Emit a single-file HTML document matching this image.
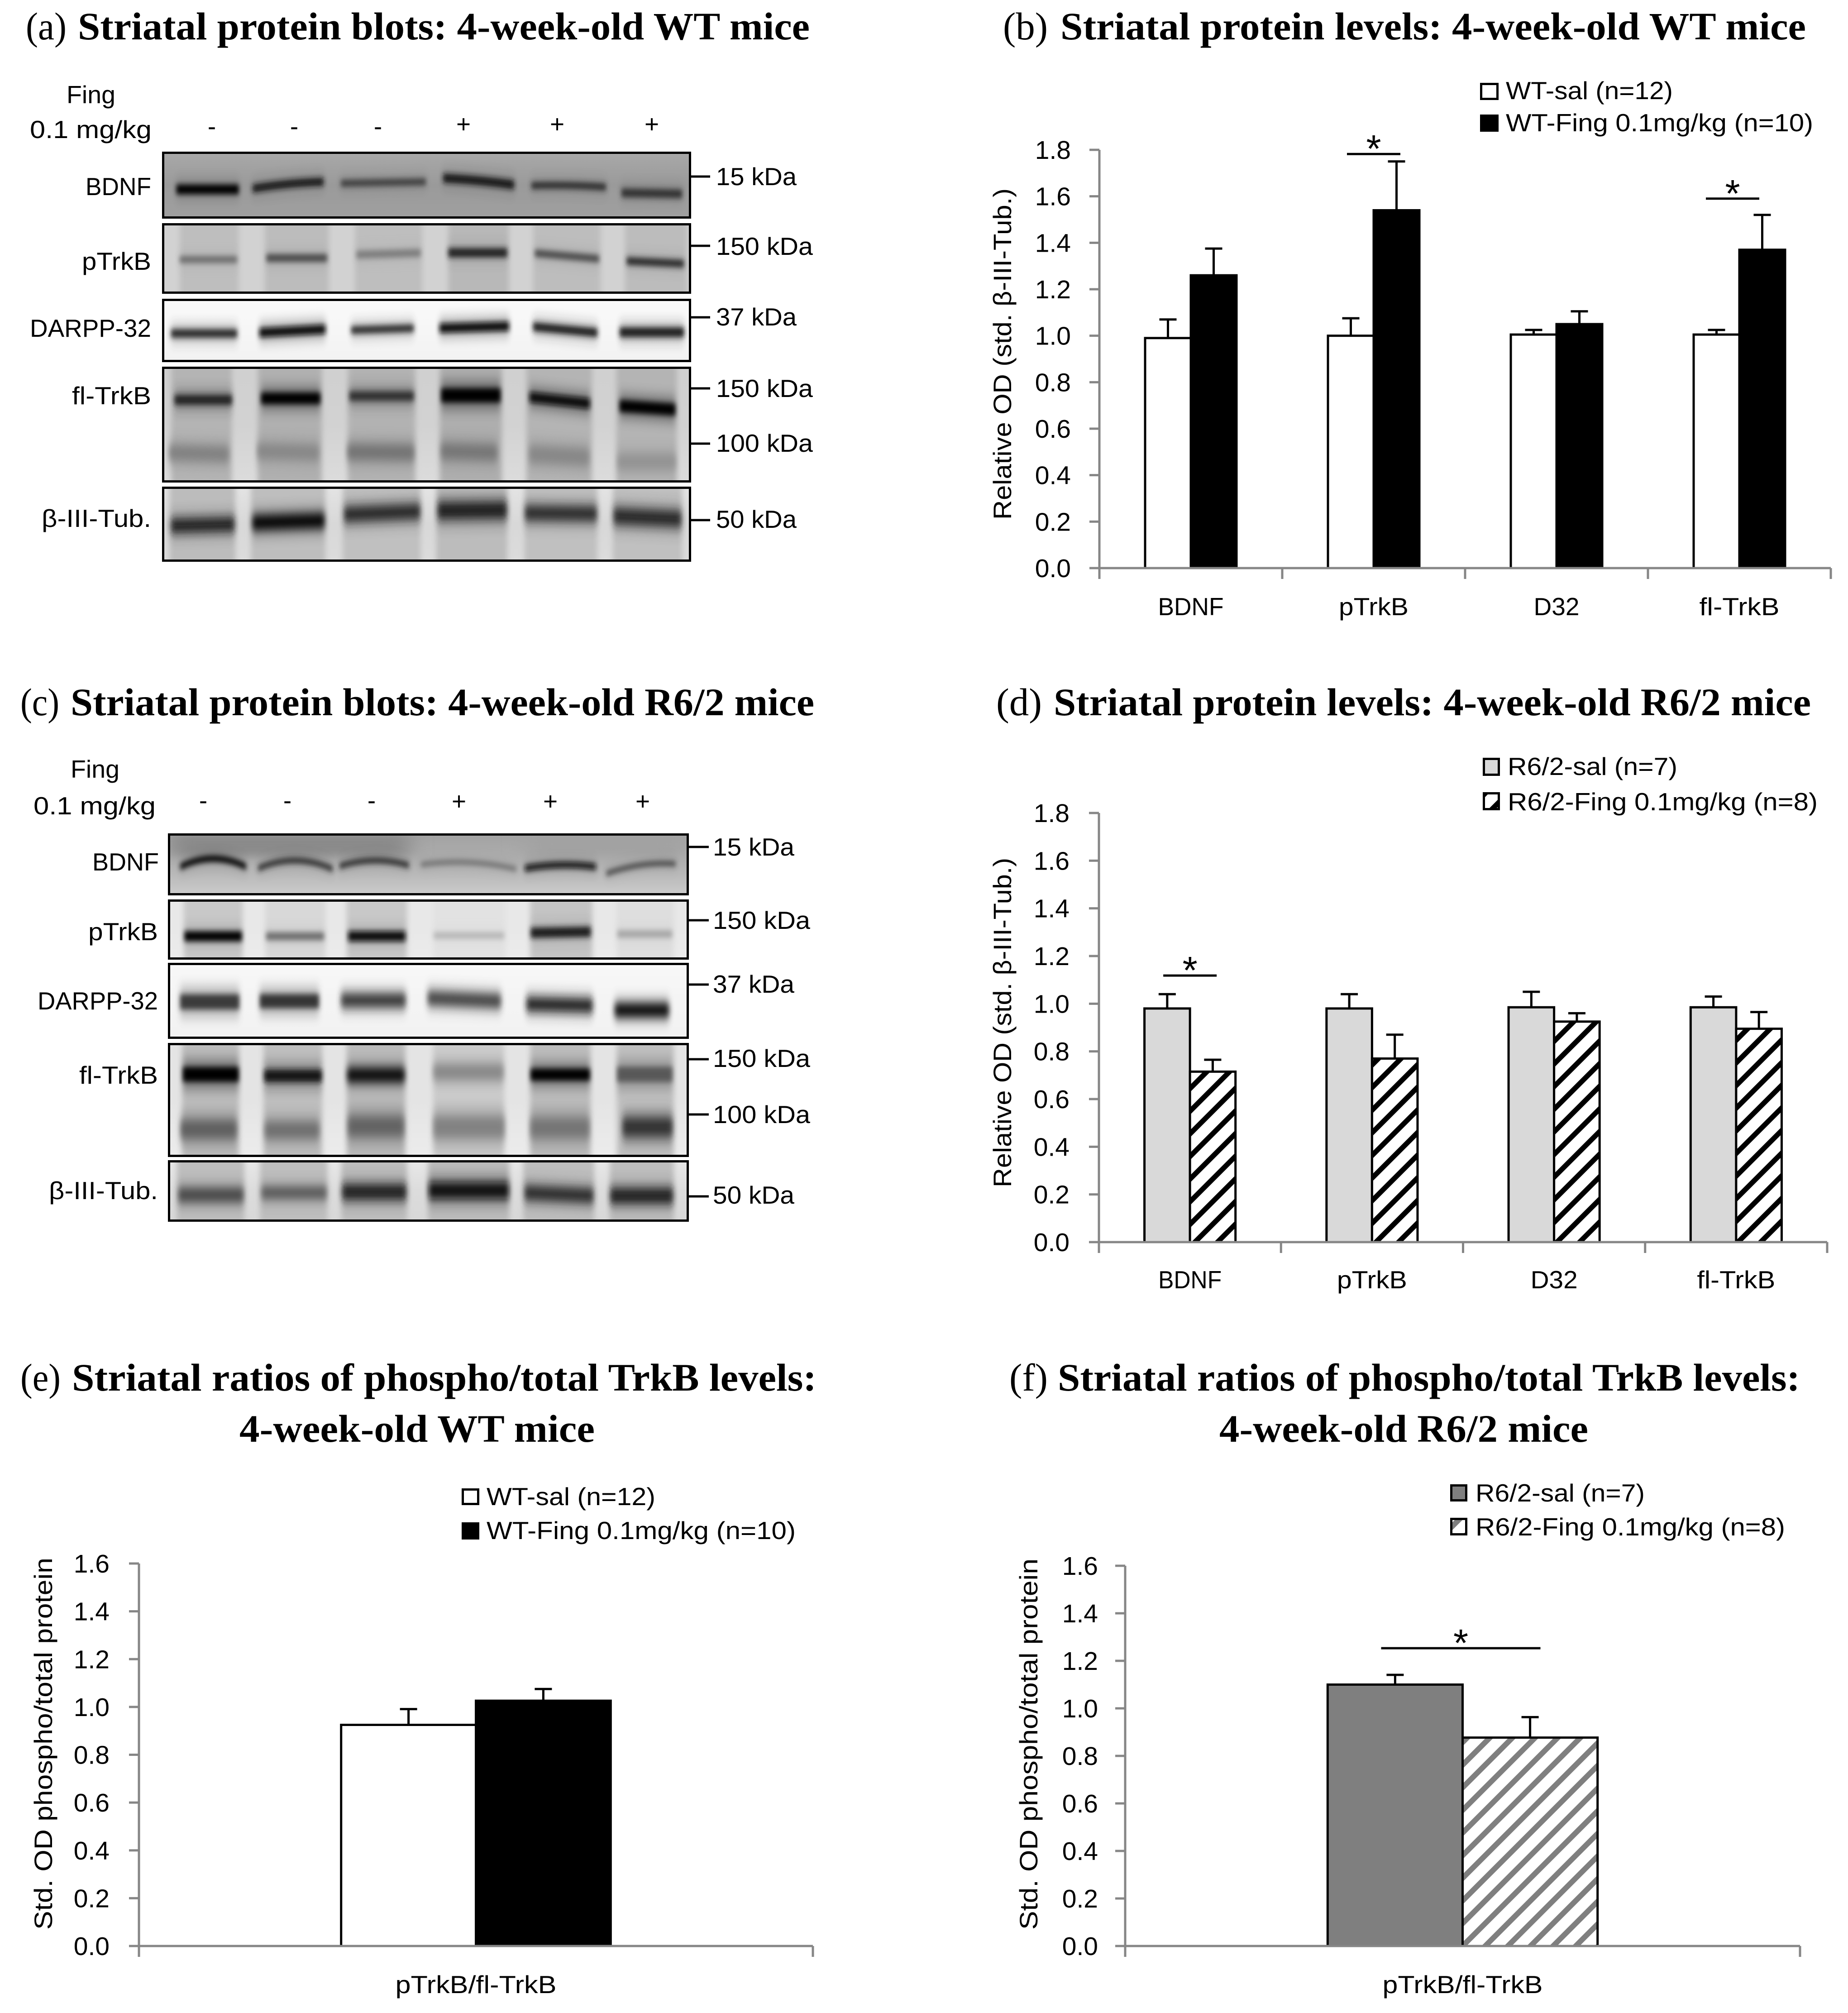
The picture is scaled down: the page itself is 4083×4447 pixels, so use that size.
<!DOCTYPE html>
<html lang="en">
<head>
<meta charset="utf-8">
<title>Striatal protein blots and levels</title>
<style>
html,body{margin:0;padding:0;background:#fff}
svg{display:block}
.t{font-family:"Liberation Serif",serif;font-size:86px;fill:#000}
.tb{font-weight:bold}
.l{font-family:"Liberation Sans",sans-serif;font-size:55px;fill:#000}
.k{stroke:#000;stroke-width:5;fill:none}
</style>
</head>
<body>
<svg id="root" xmlns="http://www.w3.org/2000/svg" width="4083" height="4447" viewBox="0 0 4083 4447">
<defs>
<filter id="bl3" x="-20%" y="-150%" width="140%" height="400%"><feGaussianBlur stdDeviation="5 6"/></filter>
<filter id="bl7" x="-20%" y="-100%" width="140%" height="300%"><feGaussianBlur stdDeviation="6 10"/></filter>
<filter id="bl9" x="-30%" y="-150%" width="160%" height="400%"><feGaussianBlur stdDeviation="6 14"/></filter>
<filter id="bl5" x="-30%" y="-40%" width="160%" height="180%"><feGaussianBlur stdDeviation="6 8"/></filter>
<filter id="bl20" x="-20%" y="-40%" width="140%" height="180%"><feGaussianBlur stdDeviation="24 10"/></filter>
<pattern id="hatch-black" patternUnits="userSpaceOnUse" width="50" height="50"><rect width="50" height="50" fill="#fff"/><polygon points="26,0 42,0 0,42 0,26" fill="#000"/><polygon points="50,26 50,42 42,50 26,50" fill="#000"/></pattern>
<pattern id="hatch-gray" patternUnits="userSpaceOnUse" width="50" height="50"><rect width="50" height="50" fill="#fff"/><polygon points="22,0 39,0 0,39 0,22" fill="#7f7f7f"/><polygon points="50,22 50,39 39,50 22,50" fill="#7f7f7f"/></pattern>
</defs>

<!-- Panel titles -->
<g>
<text class="t" x="57" y="87" textLength="90" lengthAdjust="spacingAndGlyphs">(a)</text>
<text class="t tb" x="172" y="87" textLength="1617" lengthAdjust="spacingAndGlyphs">Striatal protein blots: 4-week-old WT mice</text>
<text class="t" x="2216" y="87" textLength="99" lengthAdjust="spacingAndGlyphs">(b)</text>
<text class="t tb" x="2343" y="87" textLength="1647" lengthAdjust="spacingAndGlyphs">Striatal protein levels: 4-week-old WT mice</text>
<text class="t" x="45" y="1580" textLength="86" lengthAdjust="spacingAndGlyphs">(c)</text>
<text class="t tb" x="156" y="1580" textLength="1643" lengthAdjust="spacingAndGlyphs">Striatal protein blots: 4-week-old R6/2 mice</text>
<text class="t" x="2201" y="1580" textLength="101" lengthAdjust="spacingAndGlyphs">(d)</text>
<text class="t tb" x="2328" y="1580" textLength="1673" lengthAdjust="spacingAndGlyphs">Striatal protein levels: 4-week-old R6/2 mice</text>
<text class="t" x="45" y="3072" textLength="89" lengthAdjust="spacingAndGlyphs">(e)</text>
<text class="t tb" x="159" y="3072" textLength="1645" lengthAdjust="spacingAndGlyphs">Striatal ratios of phospho/total TrkB levels:</text>
<text class="t tb" x="529" y="3185" textLength="785" lengthAdjust="spacingAndGlyphs">4-week-old WT mice</text>
<text class="t" x="2230" y="3072" textLength="85" lengthAdjust="spacingAndGlyphs">(f)</text>
<text class="t tb" x="2337" y="3072" textLength="1640" lengthAdjust="spacingAndGlyphs">Striatal ratios of phospho/total TrkB levels:</text>
<text class="t tb" x="2694" y="3185" textLength="815" lengthAdjust="spacingAndGlyphs">4-week-old R6/2 mice</text>
</g>

<g id="blots"></g>

<!-- Panel a labels -->
<g>
<text class="l" x="147" y="228" textLength="108" lengthAdjust="spacingAndGlyphs">Fing</text>
<text class="l" x="66" y="305" textLength="269" lengthAdjust="spacingAndGlyphs">0.1 mg/kg</text>
<text class="l" x="468" y="298" text-anchor="middle">-</text>
<text class="l" x="650" y="298" text-anchor="middle">-</text>
<text class="l" x="835" y="298" text-anchor="middle">-</text>
<text class="l" x="1024" y="293" text-anchor="middle">+</text>
<text class="l" x="1231" y="293" text-anchor="middle">+</text>
<text class="l" x="1440" y="293" text-anchor="middle">+</text>
<text class="l" x="189" y="431" textLength="145" lengthAdjust="spacingAndGlyphs">BDNF</text>
<text class="l" x="181" y="596" textLength="153" lengthAdjust="spacingAndGlyphs">pTrkB</text>
<text class="l" x="66" y="744" textLength="268" lengthAdjust="spacingAndGlyphs">DARPP-32</text>
<text class="l" x="159" y="893" textLength="175" lengthAdjust="spacingAndGlyphs">fl-TrkB</text>
<text class="l" x="92" y="1164" textLength="242" lengthAdjust="spacingAndGlyphs">β-III-Tub.</text>
<path class="k" d="M1527 390H1569M1527 543H1569M1527 701H1569M1527 858H1569M1527 980H1569M1527 1149H1569"/>
<text class="l" x="1582" y="409" textLength="178" lengthAdjust="spacingAndGlyphs">15 kDa</text>
<text class="l" x="1582" y="563" textLength="214" lengthAdjust="spacingAndGlyphs">150 kDa</text>
<text class="l" x="1582" y="719" textLength="178" lengthAdjust="spacingAndGlyphs">37 kDa</text>
<text class="l" x="1582" y="877" textLength="214" lengthAdjust="spacingAndGlyphs">150 kDa</text>
<text class="l" x="1582" y="998" textLength="214" lengthAdjust="spacingAndGlyphs">100 kDa</text>
<text class="l" x="1582" y="1166" textLength="178" lengthAdjust="spacingAndGlyphs">50 kDa</text>
</g>

<!-- Panel c labels -->
<g>
<text class="l" x="156" y="1718" textLength="108" lengthAdjust="spacingAndGlyphs">Fing</text>
<text class="l" x="74" y="1799" textLength="270" lengthAdjust="spacingAndGlyphs">0.1 mg/kg</text>
<text class="l" x="449" y="1787" text-anchor="middle">-</text>
<text class="l" x="635" y="1787" text-anchor="middle">-</text>
<text class="l" x="821" y="1787" text-anchor="middle">-</text>
<text class="l" x="1014" y="1789" text-anchor="middle">+</text>
<text class="l" x="1216" y="1789" text-anchor="middle">+</text>
<text class="l" x="1420" y="1789" text-anchor="middle">+</text>
<text class="l" x="204" y="1923" textLength="147" lengthAdjust="spacingAndGlyphs">BDNF</text>
<text class="l" x="195" y="2077" textLength="154" lengthAdjust="spacingAndGlyphs">pTrkB</text>
<text class="l" x="83" y="2230" textLength="266" lengthAdjust="spacingAndGlyphs">DARPP-32</text>
<text class="l" x="175" y="2394" textLength="174" lengthAdjust="spacingAndGlyphs">fl-TrkB</text>
<text class="l" x="108" y="2649" textLength="241" lengthAdjust="spacingAndGlyphs">β-III-Tub.</text>
<path class="k" d="M1520 1871H1566M1520 2033H1566M1520 2175H1566M1520 2340H1566M1520 2462H1566M1520 2643H1566"/>
<text class="l" x="1575" y="1890" textLength="180" lengthAdjust="spacingAndGlyphs">15 kDa</text>
<text class="l" x="1575" y="2052" textLength="215" lengthAdjust="spacingAndGlyphs">150 kDa</text>
<text class="l" x="1575" y="2193" textLength="180" lengthAdjust="spacingAndGlyphs">37 kDa</text>
<text class="l" x="1575" y="2357" textLength="215" lengthAdjust="spacingAndGlyphs">150 kDa</text>
<text class="l" x="1575" y="2481" textLength="215" lengthAdjust="spacingAndGlyphs">100 kDa</text>
<text class="l" x="1575" y="2659" textLength="180" lengthAdjust="spacingAndGlyphs">50 kDa</text>
</g>

<g id="charts"></g>
</svg>

<script>
// ---------- Chart data ----------
const proteinCategories = ['BDNF', 'pTrkB', 'D32', 'fl-TrkB'];
const ratioCategories = ['pTrkB/fl-TrkB'];
const tickLabels18 = ['0.0', '0.2', '0.4', '0.6', '0.8', '1.0', '1.2', '1.4', '1.6', '1.8'];
const tickLabels16 = ['0.0', '0.2', '0.4', '0.6', '0.8', '1.0', '1.2', '1.4', '1.6'];

const bSalValues = [0.99, 1.0, 1.005, 1.005];
const bSalErrors = [0.08, 0.075, 0.02, 0.02];
const bFingValues = [1.26, 1.54, 1.05, 1.37];
const bFingErrors = [0.115, 0.21, 0.055, 0.15];
const bSigCategories = [1, 3];
const bSigLevels = [1.782, 1.59];

const dSalValues = [0.98, 0.98, 0.985, 0.985];
const dSalErrors = [0.06, 0.06, 0.065, 0.045];
const dFingValues = [0.715, 0.77, 0.925, 0.895];
const dFingErrors = [0.05, 0.10, 0.035, 0.07];
const dSigCategories = [0];
const dSigLevels = [1.118];

const eSalValues = [0.925];
const eSalErrors = [0.066];
const eFingValues = [1.026];
const eFingErrors = [0.049];
const eSigCategories = [];
const eSigLevels = [];

const fSalValues = [1.10];
const fSalErrors = [0.041];
const fFingValues = [0.877];
const fFingErrors = [0.086];
const fSigCategories = [0];
const fSigLevels = [1.253];

// ---------- Helpers ----------
const NS = 'http://www.w3.org/2000/svg';
function mk(tag, attrs, parent, txt) {
  const el = document.createElementNS(NS, tag);
  for (const k in attrs) el.setAttribute(k, attrs[k]);
  if (txt !== undefined) el.textContent = txt;
  parent.appendChild(el);
  return el;
}
const SANS = '"Liberation Sans", sans-serif';

// ---------- Chart drawing ----------
function drawChart(c) {
  const root = document.getElementById('charts');
  const g = mk('g', {}, root);
  
  
  const yScale = v => c.y0 - (v / c.vmax) * (c.y0 - c.y1);
  const catW = (c.x1 - c.x0) / c.categories.length;
  const xBand = i => c.x0 + i * catW;
  const xCenter = i => xBand(i) + catW / 2;
  const barW = catW * c.barFrac;

  // bars + error bars
  c.series.forEach((s, si) => {
    s.values.forEach((v, i) => {
      const left = xCenter(i) + (si - 1) * barW;
      const top = yScale(v + s.errors[i]);
      const mid = left + barW / 2;
      const stem = mk('path', { d: 'M' + mid + ' ' + yScale(v) + 'V' + top + 'M' + (mid - 19) + ' ' + top + 'H' + (mid + 19), stroke: '#000', 'stroke-width': 5, fill: 'none' }, g);
      
      
    });
  });
  c.series.forEach((s, si) => {
    s.values.forEach((v, i) => {
      const left = xCenter(i) + (si - 1) * barW;
      const bar = mk('rect', { x: left, y: yScale(v), width: barW, height: yScale(0) - yScale(v), fill: s.fill, stroke: '#000', 'stroke-width': 5 }, g);
      
      
    });
  });

  // axes
  const axis = mk('path', { d: 'M' + c.x0 + ' ' + c.y1 + 'V' + c.y0 + 'H' + c.x1, stroke: '#868686', 'stroke-width': 5, fill: 'none' }, g);
  
  
  c.ticks.forEach(t => {
    const y = yScale(parseFloat(t));
    const tick = mk('path', { d: 'M' + (c.x0 - 22) + ' ' + y + 'H' + c.x0, stroke: '#868686', 'stroke-width': 5 }, g);
    
    
    const lab = mk('text', { x: c.x0 - c.tickGap, y: y + 20, 'text-anchor': 'end', 'font-family': SANS, 'font-size': 57 }, g, t);
    
    
  });
  for (let i = 0; i <= c.categories.length; i++) {
    const tick = mk('path', { d: 'M' + xBand(i) + ' ' + c.y0 + 'v24', stroke: '#868686', 'stroke-width': 5 }, g);
    
    
  }
  c.categories.forEach((cat, i) => {
    const w = c.catLen[i];
    const lab = mk('text', { x: xCenter(i) - w / 2 + c.catShift, y: c.catBase, 'font-family': SANS, 'font-size': 55, textLength: w, lengthAdjust: 'spacingAndGlyphs' }, g, cat);
    
    
  });

  // y title
  const yt = mk('text', { transform: 'translate(' + c.yTitle.x + ' ' + c.yTitle.y + ') rotate(-90)', x: 0, y: 0, 'font-family': SANS, 'font-size': 56, textLength: c.yTitle.len, lengthAdjust: 'spacingAndGlyphs' }, g, c.yTitle.text);
  
  

  // significance
  c.sigCats.forEach((ci, k) => {
    const y = yScale(c.sigLevels[k]);
    const cx = xCenter(ci) + c.sigShift[k];
    const line = mk('path', { d: 'M' + (cx - c.sigHalf) + ' ' + y + 'H' + (cx + c.sigHalf), stroke: '#000', 'stroke-width': 5 }, g);
    
    
    const star = mk('text', { x: cx, y: y + 18, 'text-anchor': 'middle', 'font-family': SANS, 'font-size': 85 }, g, '*');
    
    
  });

  // legend
  c.series.forEach((s, si) => {
    const L = c.legend[si];
    const sw = mk('rect', { x: L.bx + 2.5, y: L.by + 2.5, width: L.bw - 5, height: L.bh - 5, fill: s.fill, stroke: '#000', 'stroke-width': 5 }, g);
    
    
    const tx = mk('text', { x: L.tx, y: L.ty, 'font-family': SANS, 'font-size': 55, textLength: L.tl, lengthAdjust: 'spacingAndGlyphs' }, g, s.label);
    
    
  });
}

drawChart({
  name: 'chart-b-wt-protein-levels', categories: proteinCategories, ticks: tickLabels18, vmax: 1.8,
  x0: 2429, x1: 4045, y0: 1255, y1: 331, barFrac: 0.25, tickGap: 63,
  catBase: 1359, catLen: [145, 154, 101, 177], catShift: 0,
  yTitle: { text: 'Relative OD (std. β-III-Tub.)', x: 2234, y: 1148, len: 732 },
  sigCats: bSigCategories, sigLevels: bSigLevels, sigHalf: 59, sigShift: [0, -15],
  series: [
    { key: 'wt-sal', label: 'WT-sal (n=12)', values: bSalValues, errors: bSalErrors, fill: '#fff' },
    { key: 'wt-fing', label: 'WT-Fing 0.1mg/kg (n=10)', values: bFingValues, errors: bFingErrors, fill: '#000' }
  ],
  legend: [
    { bx: 3270, by: 183, bw: 41, bh: 38, tx: 3327, ty: 219, tl: 369 },
    { bx: 3270, by: 253, bw: 41, bh: 38, tx: 3327, ty: 290, tl: 679 }
  ]
});
drawChart({
  name: 'chart-d-r62-protein-levels', categories: proteinCategories, ticks: tickLabels18, vmax: 1.8,
  x0: 2428, x1: 4037, y0: 2744, y1: 1796, barFrac: 0.25, tickGap: 65,
  catBase: 2846, catLen: [140, 155, 104, 173], catShift: 0,
  yTitle: { text: 'Relative OD (std. β-III-Tub.)', x: 2234, y: 2623, len: 728 },
  sigCats: dSigCategories, sigLevels: dSigLevels, sigHalf: 59, sigShift: [0],
  series: [
    { key: 'r62-sal', label: 'R6/2-sal (n=7)', values: dSalValues, errors: dSalErrors, fill: '#d9d9d9' },
    { key: 'r62-fing', label: 'R6/2-Fing 0.1mg/kg (n=8)', values: dFingValues, errors: dFingErrors, fill: 'url(#hatch-black)' }
  ],
  legend: [
    { bx: 3276, by: 1674, bw: 38, bh: 40, tx: 3331, ty: 1712, tl: 375 },
    { bx: 3276, by: 1750, bw: 38, bh: 40, tx: 3331, ty: 1790, tl: 685 }
  ]
});
drawChart({
  name: 'chart-e-wt-ratio', categories: ratioCategories, ticks: tickLabels16, vmax: 1.6,
  x0: 307, x1: 1796, y0: 4299, y1: 3454, barFrac: 0.2, tickGap: 65,
  catBase: 4403, catLen: [356], catShift: 0,
  yTitle: { text: 'Std. OD phospho/total protein', x: 115, y: 4263, len: 822 },
  sigCats: eSigCategories, sigLevels: eSigLevels, sigHalf: 59, sigShift: [],
  series: [
    { key: 'wt-sal', label: 'WT-sal (n=12)', values: eSalValues, errors: eSalErrors, fill: '#fff' },
    { key: 'wt-fing', label: 'WT-Fing 0.1mg/kg (n=10)', values: eFingValues, errors: eFingErrors, fill: '#000' }
  ],
  legend: [
    { bx: 1020, by: 3288, bw: 39, bh: 37, tx: 1075, ty: 3325, tl: 373 },
    { bx: 1020, by: 3363, bw: 39, bh: 38, tx: 1075, ty: 3400, tl: 683 }
  ]
});
drawChart({
  name: 'chart-f-r62-ratio', categories: ratioCategories, ticks: tickLabels16, vmax: 1.6,
  x0: 2486, x1: 3977, y0: 4299, y1: 3459, barFrac: 0.2, tickGap: 60,
  catBase: 4403, catLen: [354], catShift: 0,
  yTitle: { text: 'Std. OD phospho/total protein', x: 2292, y: 4263, len: 820 },
  sigCats: fSigCategories, sigLevels: fSigLevels, sigHalf: 176, sigShift: [-4],
  series: [
    { key: 'r62-sal', label: 'R6/2-sal (n=7)', values: fSalValues, errors: fSalErrors, fill: '#7f7f7f' },
    { key: 'r62-fing', label: 'R6/2-Fing 0.1mg/kg (n=8)', values: fFingValues, errors: fFingErrors, fill: 'url(#hatch-gray)' }
  ],
  legend: [
    { bx: 3204, by: 3279, bw: 38, bh: 38, tx: 3260, ty: 3317, tl: 374 },
    { bx: 3204, by: 3353, bw: 38, bh: 39, tx: 3260, ty: 3392, tl: 684 }
  ]
});

// ---------- Western blot imagery ----------
// lanes: [x1, x2, fill, yTop?, yBottom?]; bands: [x1, x2, yLeft, yRight, thickness, colour, bow] in local crop units
const blotPanels = [
  { name: 'blot-a-bdnf', ox: 340, oy: 320, box: [358, 335, 1527, 483], bg: ['#a9a9a9', '#9a9a9a', '#a0a0a0'], halo: 0.15,
    lanes: [],
    bands: [[65,245,295,295,38,'#000'],[285,490,290,245,30,'#141414',-8],[540,785,255,245,26,'#3c3c3c'],[835,1040,220,265,34,'#141414',-5],[1090,1305,270,280,26,'#2a2a2a',-6],[1350,1525,318,325,34,'#333']] },
  { name: 'blot-a-ptrkb', ox: 340, oy: 320, box: [358, 493, 1527, 649], bg: ['#d2d2d2', '#d2d2d2', '#d2d2d2'], halo: 0.12,
    lanes: [[75,245,'#bebebe'],[320,505,'#bcbcbc'],[580,775,'#bebebe'],[850,1025,'#b8b8b8'],[1095,1290,'#bdbdbd'],[1360,1540,'#bcbcbc']],
    bands: [[75,240,760,760,26,'#6a6a6a'],[325,500,750,750,30,'#4a4a4a'],[585,770,728,716,30,'#7c7c7c'],[850,1020,715,715,36,'#222'],[1100,1285,718,755,28,'#4a4a4a'],[1365,1530,770,788,30,'#2c2c2c']] },
  { name: 'blot-a-darpp32', ox: 340, oy: 320, box: [358, 660, 1527, 800], bg: ['#fafafa', '#f6f6f6', '#f2f2f2'], halo: 0.32,
    lanes: [],
    bands: [[50,240,1250,1250,32,'#2c2c2c'],[305,495,1245,1222,36,'#0c0c0c'],[570,750,1228,1215,28,'#2c2c2c'],[825,1025,1215,1202,36,'#0c0c0c'],[1095,1280,1205,1245,32,'#1c1c1c'],[1345,1530,1242,1242,36,'#1c1c1c']] },
  { name: 'blot-a-fl-trkb', ox: 340, oy: 790, box: [358, 810, 1527, 1066], bg: ['#d0d0d0', '#d2d2d2', '#dcdcdc'], halo: 0.4,
    lanes: [[50,225,'#b4b4b4'],[300,485,'#b0b0b0'],[560,755,'#b2b2b2'],[825,1005,'#aeaeae'],[1075,1265,'#b4b4b4'],[1335,1510,'#b4b4b4']],
    bands: [[60,225,280,280,36,'#222'],[310,480,270,270,44,'#000'],[565,750,255,255,36,'#333'],[830,1000,250,250,54,'#000'],[1085,1258,262,305,40,'#0c0c0c'],[1345,1505,320,345,46,'#000'],
            [45,215,630,640,70,'#808080'],[300,475,620,630,70,'#868686'],[560,750,625,630,72,'#727272'],[830,990,620,630,72,'#747474'],[1085,1255,640,660,80,'#868686'],[1340,1505,690,690,70,'#929292']] },
  { name: 'blot-a-tubulin', ox: 340, oy: 790, box: [358, 1075, 1527, 1241], bg: ['#e4e4e4', '#d8d8d8', '#dcdcdc'], halo: 0.3,
    lanes: [[45,235,'#bcbcbc'],[280,495,'#bebebe'],[545,770,'#c0c0c0'],[815,1020,'#bcbcbc'],[1070,1280,'#c0c0c0'],[1325,1525,'#c0c0c0']],
    bands: [[50,232,1115,1105,66,'#1c1c1c'],[285,492,1095,1080,72,'#060606'],[550,768,1040,1020,72,'#282828'],[820,1018,1015,1010,82,'#1e1e1e'],[1072,1278,1030,1035,72,'#2a2a2a'],[1328,1522,1050,1070,78,'#262626']] },

  { name: 'blot-c-bdnf', ox: 360, oy: 1820, box: [371, 1841, 1522, 1978], bg: ['#a2a2a2', '#b0b0b0', '#cccccc'], halo: 0.12,
    lanes: [[20,710,'#8a8a8a',60,215,'bl20'],[1050,1500,'#a2a2a2',60,210,'bl20']],
    bands: [[50,240,285,285,24,'#000',-55],[275,490,295,300,22,'#2a2a2a',-55],[510,710,280,275,22,'#2a2a2a',-35],[745,1020,270,300,16,'#666',-30],[1045,1250,295,285,24,'#0a0a0a',-18],[1280,1480,330,265,18,'#3c3c3c',-25]] },
  { name: 'blot-c-ptrkb', ox: 360, oy: 1820, box: [371, 1987, 1522, 2120], bg: ['#e8e8e8', '#e8e8e8', '#ececec'], halo: 0.12,
    lanes: [[60,230,'#c8c8c8'],[295,470,'#d8d8d8'],[530,705,'#c8c8c8'],[780,990,'#e2e2e2'],[1060,1240,'#c4c4c4'],[1310,1475,'#dedede']],
    bands: [[62,228,745,745,40,'#000'],[298,465,745,745,30,'#6c6c6c'],[535,700,745,745,40,'#0a0a0a'],[782,985,740,740,24,'#b4b4b4'],[1062,1235,722,715,40,'#1a1a1a'],[1312,1470,730,730,28,'#a4a4a4']] },
  { name: 'blot-c-darpp32', ox: 360, oy: 1820, box: [371, 2127, 1522, 2295], bg: ['#f8f8f8', '#f4f4f4', '#f2f2f2'], halo: 0.35,
    lanes: [],
    bands: [[50,220,1180,1180,58,'#3a3a3a'],[280,450,1175,1175,54,'#343434'],[515,700,1170,1170,62,'#323232'],[765,975,1155,1175,62,'#3e3e3e'],[1050,1240,1195,1205,62,'#1a1a1a'],[1305,1460,1235,1235,62,'#050505']] },
  { name: 'blot-c-fl-trkb', ox: 360, oy: 2280, box: [371, 2304, 1522, 2556], bg: ['#e4e4e4', '#e4e4e4', '#ececec'], halo: 0.4,
    lanes: [[55,220,'#bcbcbc'],[290,460,'#bebebe'],[530,700,'#bababa'],[780,985,'#cccccc'],[1060,1235,'#bcbcbc'],[1310,1475,'#c0c0c0']],
    bands: [[58,218,280,280,56,'#000'],[293,458,290,290,46,'#141414'],[533,697,285,285,60,'#000'],[782,982,265,265,70,'#868686'],[1062,1232,282,282,46,'#000'],[1312,1470,280,280,58,'#585858'],
            [52,212,645,645,90,'#5e5e5e'],[295,450,650,650,80,'#6e6e6e'],[535,695,625,625,100,'#646464'],[782,985,630,630,110,'#828282'],[1062,1230,635,635,100,'#747474'],[1328,1470,630,630,90,'#303030']] },
  { name: 'blot-c-tubulin', ox: 360, oy: 2280, box: [371, 2563, 1522, 2699], bg: ['#e8e8e8', '#dcdcdc', '#d8d8d8'], halo: 0.25,
    lanes: [[40,235,'#bebebe'],[280,475,'#bebebe'],[515,705,'#bebebe'],[765,1000,'#bcbcbc'],[1040,1245,'#bebebe'],[1290,1475,'#bebebe']],
    bands: [[45,232,1080,1080,72,'#474747'],[285,472,1065,1065,60,'#545454'],[518,702,1060,1060,76,'#1e1e1e'],[768,998,1050,1050,86,'#0e0e0e'],[1045,1242,1065,1085,72,'#2a2a2a'],[1292,1472,1085,1085,76,'#1a1a1a']] }
];

(function () {
  const host = document.getElementById('blots');
  const defs = document.querySelector('defs');
  blotPanels.forEach((p, idx) => {
    const X = d => p.ox + d * 0.7653;
    const Y = d => p.oy + d / 3;
    const [bx0, by0, bx1, by1] = p.box;
    const grad = mk('linearGradient', { id: 'bg' + idx, x1: 0, y1: 0, x2: 0, y2: 1 }, defs);
    p.bg.forEach((col, i) => mk('stop', { offset: i / 2, 'stop-color': col }, grad));
    const clip = mk('clipPath', { id: 'cl' + idx }, defs);
    mk('rect', { x: bx0, y: by0, width: bx1 - bx0, height: by1 - by0 }, clip);

    const g = mk('g', { 'clip-path': 'url(#cl' + idx + ')' }, host);
    
    
    mk('rect', { x: bx0, y: by0, width: bx1 - bx0, height: by1 - by0, fill: 'url(#bg' + idx + ')' }, g);
    p.lanes.forEach(l => {
      const top = l.length > 3 ? Y(l[3]) : by0 - 30;
      const bottom = l.length > 3 ? Y(l[4]) : by1 + 30;
      const lane = mk('rect', { x: X(l[0]), y: top, width: X(l[1]) - X(l[0]), height: bottom - top, fill: l[2], filter: 'url(#' + (l[5] || 'bl5') + ')' }, g);
      
      
    });
    const bandPath = (b, scale) => {
      const x1 = X(b[0]), x2 = X(b[1]), yL = Y(b[2]), yR = Y(b[3]), h = (b[4] / 3) * scale / 2;
      const xc = (x1 + x2) / 2, yc = (yL + yR) / 2 + ((b[6] || 0) / 3) * 2;
      return 'M' + x1 + ' ' + (yL - h) + 'Q' + xc + ' ' + (yc - h) + ' ' + x2 + ' ' + (yR - h) +
             'L' + x2 + ' ' + (yR + h) + 'Q' + xc + ' ' + (yc + h) + ' ' + x1 + ' ' + (yL + h) + 'Z';
    };
    const coreScale = b => (b[4] >= 60 ? 1.25 : 1.7);
    p.bands.forEach(b => {
      const hal = mk('path', { d: bandPath(b, coreScale(b) * 2), fill: b[5], opacity: p.halo, filter: 'url(#bl9)' }, g);
      
      
    });
    p.bands.forEach(b => {
      const band = mk('path', { d: bandPath(b, coreScale(b)), fill: b[5], filter: b[4] >= 60 ? 'url(#bl7)' : 'url(#bl3)' }, g);
      
      
    });
    const frame = mk('rect', { x: bx0 + 2.5, y: by0 + 2.5, width: bx1 - bx0 - 5, height: by1 - by0 - 5, fill: 'none', stroke: '#000', 'stroke-width': 5 }, host);
    
    
  });
})();
</script>
</body>
</html>
